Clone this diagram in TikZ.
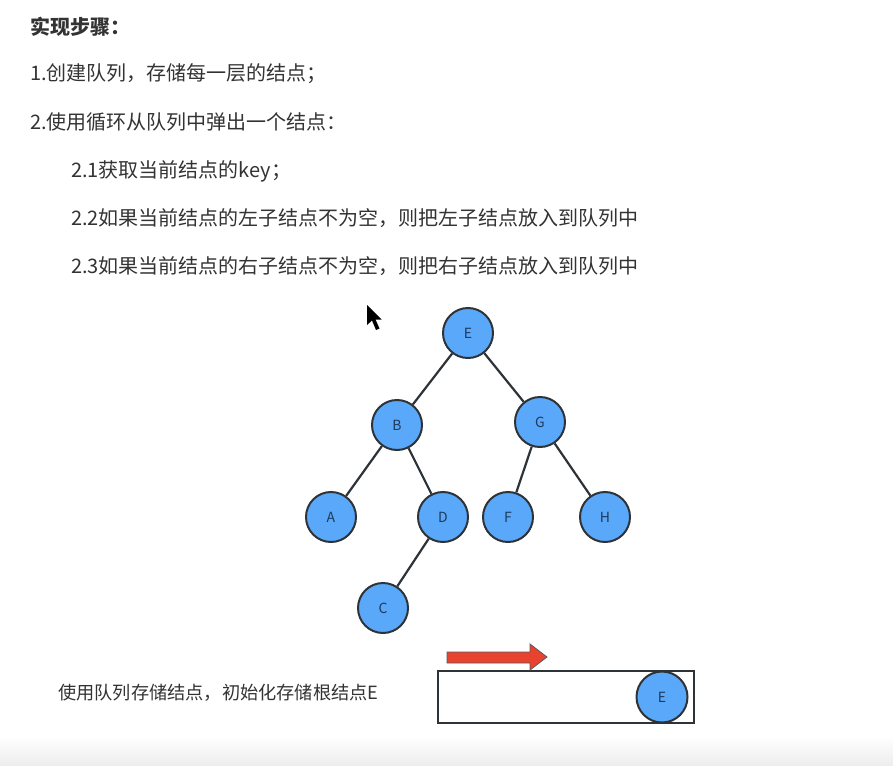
\documentclass[tikz,border=0pt]{standalone}
\usepackage{fontspec}
\setmainfont{Noto Sans CJK SC}
\usetikzlibrary{shapes.geometric}
\definecolor{txt}{HTML}{333333}
\definecolor{nodefill}{HTML}{5AA8FA}
\definecolor{nodeline}{HTML}{2E3338}
\definecolor{nodetxt}{HTML}{1E3A5C}
\definecolor{arrowred}{HTML}{E8432F}
\tikzset{
  stepline/.style={anchor=west, text=txt, inner sep=0pt, font=\fontsize{20}{22}\selectfont},
  treenode/.style={circle, draw=nodeline, line width=2pt, fill=nodefill, minimum size=50pt, inner sep=0pt, text=nodetxt, font=\fontsize{14}{16}\selectfont},
  edge/.style={draw=nodeline, line width=2.2pt},
}
\begin{document}
\begin{tikzpicture}[x=1pt, y=-1pt]
\useasboundingbox (0,0) rectangle (893,765);
\fill[white] (0,0) rectangle (893,765);
\shade[top color=white, bottom color=black!7] (0,736) rectangle (893,765);

% text
\node[stepline, font=\fontsize{20}{22}\selectfont\bfseries] (title) at (30,27) {实现步骤：};
\node[stepline] (s1) at (30,74) {1.创建队列，存储每一层的结点；};
\node[stepline] (s2) at (30,122) {2.使用循环从队列中弹出一个结点：};
\node[stepline] (s21) at (71,171) {2.1获取当前结点的key；};
\node[stepline] (s22) at (71,218) {2.2如果当前结点的左子结点不为空，则把左子结点放入到队列中};
\node[stepline] (s23) at (71,266) {2.3如果当前结点的右子结点不为空，则把右子结点放入到队列中};

% cursor
\fill[black] (367,305) -- (367,325) -- (372,320.5) -- (376,330) -- (379.5,328.5) -- (375.5,319.5) -- (381.5,319.5) -- cycle;

% tree
\node[treenode] (E) at (468,333) {E};
\node[treenode] (B) at (397,425) {B};
\node[treenode] (G) at (540,422) {G};
\node[treenode] (A) at (331,517) {A};
\node[treenode] (D) at (443,517) {D};
\node[treenode] (F) at (508,517) {F};
\node[treenode] (H) at (605,517) {H};
\node[treenode] (C) at (383,608) {C};
\draw[edge] (E) -- (B);
\draw[edge] (E) -- (G);
\draw[edge] (B) -- (A);
\draw[edge] (B) -- (D);
\draw[edge] (D) -- (C);
\draw[edge] (G) -- (F);
\draw[edge] (G) -- (H);

% queue
\node[stepline, font=\fontsize{18.2}{20}\selectfont] (qtxt) at (58,693) {使用队列存储结点，初始化存储根结点E};
\node[draw=nodeline, line width=1.6pt, minimum width=256pt, minimum height=52pt, inner sep=0pt] (queue) at (566,697) {};
\node[treenode, minimum size=51pt] (QE) at (662,697) {E};
\fill[arrowred, draw=nodeline!80, line width=0.8pt] (447,652) -- (530,652) -- (530,644) -- (547,657) -- (530,670) -- (530,663) -- (447,663) -- cycle;
\end{tikzpicture}
\end{document}
